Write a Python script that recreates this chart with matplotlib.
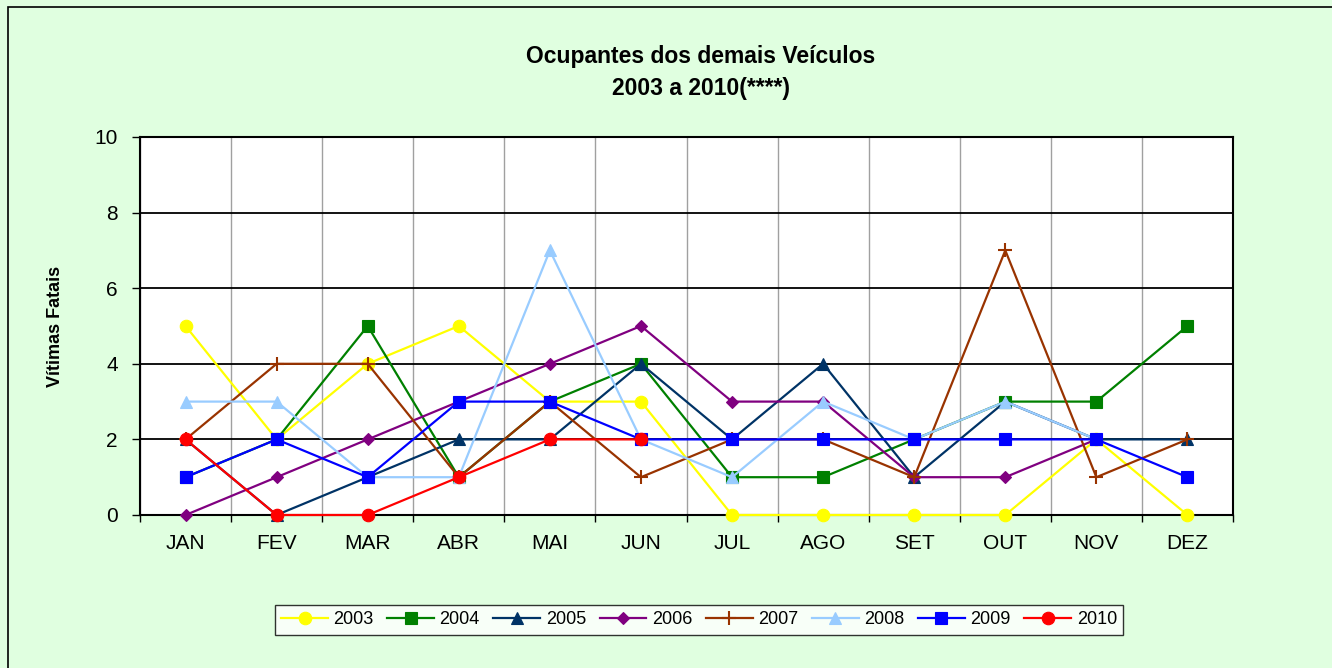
import matplotlib.pyplot as plt
import numpy as np
from matplotlib.patches import Rectangle

plt.rcParams['font.family'] = ['Liberation Sans', 'DejaVu Sans']

meses = ['JAN', 'FEV', 'MAR', 'ABR', 'MAI', 'JUN', 'JUL', 'AGO', 'SET', 'OUT', 'NOV', 'DEZ']
nan = np.nan

# valores (vitimas por mes)
v2003 = [5, 2, 4, 5, 3, 3, 0, 0, 0, 0, 2, 0]
v2004 = [1, 2, 5, 1, 3, 4, 1, 1, 2, 3, 3, 5]
v2005 = [2, 0, 1, 2, 2, 4, 2, 4, 1, 3, 2, 2]
v2006 = [0, 1, 2, 3, 4, 5, 3, 3, 1, 1, 2, nan]
v2007 = [2, 4, 4, 1, 3, 1, 2, 2, 1, 7, 1, 2]
v2008 = [3, 3, 1, 1, 7, 2, 1, 3, 2, 3, 2, nan]
v2009 = [1, 2, 1, 3, 3, 2, 2, 2, 2, 2, 2, 1]
v2010 = [2, 0, 0, 1, 2, 2, nan, nan, nan, nan, nan, nan]

series = [
    ('2003', v2003, '#FFFF00', 'o', 9),
    ('2004', v2004, '#008000', 's', 8),
    ('2005', v2005, '#003366', '^', 9),
    ('2006', v2006, '#800080', 'D', 6.5),
    ('2007', v2007, '#993300', '+', 10),
    ('2008', v2008, '#99CCFF', '^', 9),
    ('2009', v2009, '#0000FF', 's', 8),
    ('2010', v2010, '#FF0000', 'o', 9),
]

fig = plt.figure(figsize=(13.32, 6.68), dpi=100)
fig.patch.set_facecolor('#E0FFE0')
fig.patches.append(Rectangle((8 / 1332, -0.01), 1.5, 1 - 7 / 668 + 0.01,
                             transform=fig.transFigure, fill=False,
                             edgecolor='black', linewidth=1.2))

ax = fig.add_axes([140 / 1332, 1 - 515 / 668, 1093 / 1332, 378 / 668])
ax.set_facecolor('white')

x = np.arange(len(meses))
for nome, vals, cor, mk, ms in series:
    ax.plot(x, vals, color=cor, marker=mk, markersize=ms, linewidth=1.6,
            markeredgewidth=1.5 if mk == '+' else 0.8, markeredgecolor=cor,
            label=nome, clip_on=False, zorder=3)

ax.set_xlim(-0.5, 11.5)
ax.set_ylim(0, 10)
ax.set_xticks(x)
ax.set_xticklabels(meses, fontsize=15)
ax.set_xticks(np.arange(-0.5, 12, 1), minor=True)
ax.tick_params(axis='x', which='major', length=0, pad=14)
ax.tick_params(axis='x', which='minor', length=5, width=1, direction='out')
ax.set_yticks(np.arange(0, 11, 2))
ax.tick_params(axis='y', labelsize=15, length=6, width=1, direction='out', pad=10)
ax.grid(axis='x', which='minor', color='#A0A0A0', linewidth=1)
ax.grid(axis='y', which='major', color='black', linewidth=1.3)
ax.set_axisbelow(True)
for s in ax.spines.values():
    s.set_color('black')
    s.set_linewidth(1.5)

ax.set_ylabel('Vítimas Fatais', fontsize=13, fontweight='bold', labelpad=22)

fig.text(701 / 1332, 1 - 57 / 668, 'Ocupantes dos demais Veículos', ha='center',
         va='center', fontsize=16.5, fontweight='bold')
fig.text(701 / 1332, 1 - 89 / 668, '2003 a 2010(****)', ha='center',
         va='center', fontsize=16.5, fontweight='bold')

leg = fig.legend(loc='center', bbox_to_anchor=(699 / 1332, 1 - 620 / 668), ncol=8,
                 fontsize=13, frameon=True, fancybox=False, handlelength=2.6,
                 handletextpad=0.3, columnspacing=0.75, borderpad=0.35)
leg.get_frame().set_edgecolor('black')
leg.get_frame().set_linewidth(1)

fig.savefig('out.png', dpi=100, facecolor=fig.get_facecolor())
